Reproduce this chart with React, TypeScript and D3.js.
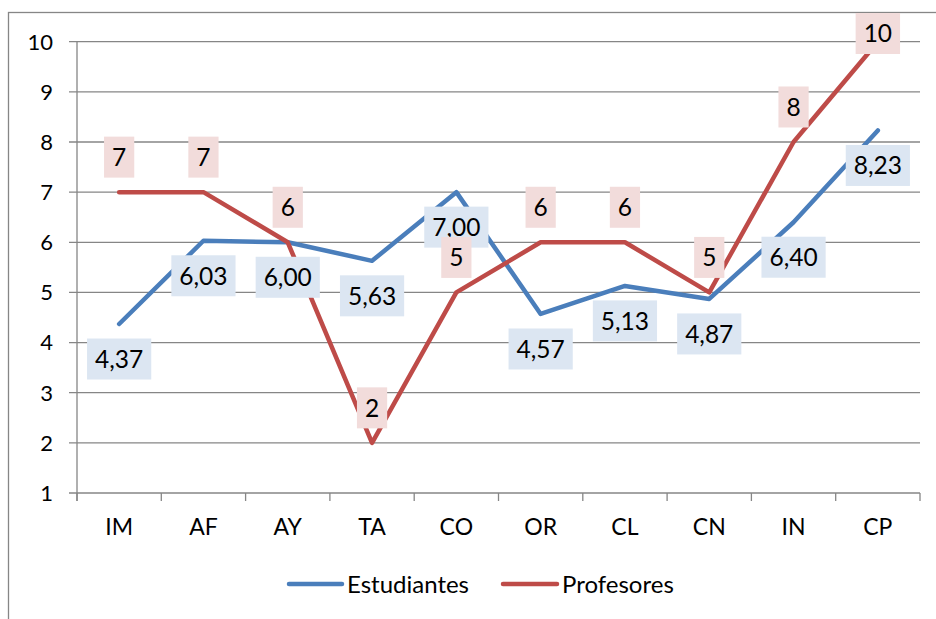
import { useEffect, useRef } from 'react'
import * as d3 from 'd3'

const categories = ['IM', 'AF', 'AY', 'TA', 'CO', 'OR', 'CL', 'CN', 'IN', 'CP']
const estudiantes = [4.37, 6.03, 6.0, 5.63, 7.0, 4.57, 5.13, 4.87, 6.4, 8.23]
const profesores = [7, 7, 6, 2, 5, 6, 6, 5, 8, 10]
const yTicks = [1, 2, 3, 4, 5, 6, 7, 8, 9, 10]

const series = [
  { name: 'Estudiantes', values: estudiantes, color: '#4a7ebb', box: '#dce6f2', below: true, fmt: (v: number) => v.toFixed(2).replace('.', ',') },
  { name: 'Profesores', values: profesores, color: '#be4b48', box: '#f2dcdb', below: false, fmt: (v: number) => String(v) },
]

const FONT = 'Lato, "Liberation Sans", sans-serif'

export default function App() {
  const svgRef = useRef<SVGSVGElement>(null)
  const width = 936
  const height = 619

  useEffect(() => {
    if (!svgRef.current) return
    const svg = d3.select(svgRef.current)
    svg.selectAll('*').remove()

    const left = 77
    const right = 920
    const top = 41.7
    const bottom = 493

    const x = d3.scaleBand<string>().domain(categories).range([left, right])
    const y = d3.scaleLinear().domain([1, 10]).range([bottom, top])
    const cx = (c: string) => (x(c) || 0) + x.bandwidth() / 2

    // outer chart border (clipped by the page on right/bottom)
    svg
      .append('rect')
      .attr('x', 8.5)
      .attr('y', 12.5)
      .attr('width', 960)
      .attr('height', 640)
      .attr('fill', 'white')
      .attr('stroke', '#868686')
      .attr('stroke-width', 1.3)

    // gridlines + y ticks
    const grid = svg.append('g')
    grid
      .selectAll('line')
      .data(yTicks)
      .enter()
      .append('line')
      .attr('x1', left - 8)
      .attr('x2', right)
      .attr('y1', (d) => y(d))
      .attr('y2', (d) => y(d))
      .attr('stroke', '#868686')
      .attr('stroke-width', 1.3)

    grid
      .selectAll('text')
      .data(yTicks)
      .enter()
      .append('text')
      .attr('x', 53)
      .attr('y', (d) => y(d))
      .attr('dy', '0.36em')
      .attr('text-anchor', 'end')
      .attr('font-family', FONT)
      .attr('font-size', 22)
      .attr('fill', '#000')
      .text((d) => d)

    // y axis line
    svg
      .append('line')
      .attr('x1', left)
      .attr('x2', left)
      .attr('y1', top)
      .attr('y2', bottom + 8)
      .attr('stroke', '#868686')
      .attr('stroke-width', 1.3)

    // x tick marks at band edges
    const edges = categories.map((c) => x(c) || 0).concat([right])
    svg
      .append('g')
      .selectAll('line')
      .data(edges)
      .enter()
      .append('line')
      .attr('x1', (d) => d)
      .attr('x2', (d) => d)
      .attr('y1', bottom)
      .attr('y2', bottom + 8)
      .attr('stroke', '#868686')
      .attr('stroke-width', 1.3)

    svg
      .append('g')
      .selectAll('text')
      .data(categories)
      .enter()
      .append('text')
      .attr('x', (d) => cx(d))
      .attr('y', 527)
      .attr('dy', '0.36em')
      .attr('text-anchor', 'middle')
      .attr('font-family', FONT)
      .attr('font-size', 23)
      .attr('fill', '#000')
      .text((d) => d)

    // lines
    const line = d3
      .line<number>()
      .x((_, i) => cx(categories[i]))
      .y((d) => y(d))

    series.forEach((s) => {
      svg
        .append('path')
        .datum(s.values)
        .attr('d', line)
        .attr('fill', 'none')
        .attr('stroke', s.color)
        .attr('stroke-width', 4.5)
        .attr('stroke-linecap', 'round')
        .attr('stroke-linejoin', 'round')
    })

    // data labels
    const boxH = 41
    series.forEach((s) => {
      const g = svg.append('g')
      s.values.forEach((v, i) => {
        let cy = s.below ? y(v) + 35 : y(v) - 35
        if (cy - boxH / 2 < 13) cy = 13 + boxH / 2
        const lg = g.append('g')
        const rect = lg.append('rect').attr('fill', s.box)
        const t = lg
          .append('text')
          .attr('x', cx(categories[i]))
          .attr('y', cy)
          .attr('dy', '0.36em')
          .attr('text-anchor', 'middle')
          .attr('font-family', FONT)
          .attr('font-size', 24.5)
          .attr('fill', '#000')
          .text(s.fmt(v))
        const w = (t.node() as SVGTextElement).getComputedTextLength() + 16
        rect
          .attr('x', cx(categories[i]) - w / 2)
          .attr('y', cy - boxH / 2)
          .attr('width', w)
          .attr('height', boxH)
      })
    })

    // legend
    const legend = [
      { s: series[0], x1: 289, x2: 342, tx: 347 },
      { s: series[1], x1: 503, x2: 557, tx: 562 },
    ]
    legend.forEach((l) => {
      svg
        .append('line')
        .attr('x1', l.x1)
        .attr('x2', l.x2)
        .attr('y1', 584)
        .attr('y2', 584)
        .attr('stroke', l.s.color)
        .attr('stroke-width', 4.5)
        .attr('stroke-linecap', 'round')
      svg
        .append('text')
        .attr('x', l.tx)
        .attr('y', 584)
        .attr('dy', '0.36em')
        .attr('font-family', FONT)
        .attr('font-size', 24)
        .attr('fill', '#000')
        .text(l.s.name)
    })
  }, [])

  return (
    <svg
      ref={svgRef}
      width={width}
      height={height}
      style={{ position: 'absolute', left: 0, top: 0, display: 'block', background: 'white' }}
    />
  )
}
